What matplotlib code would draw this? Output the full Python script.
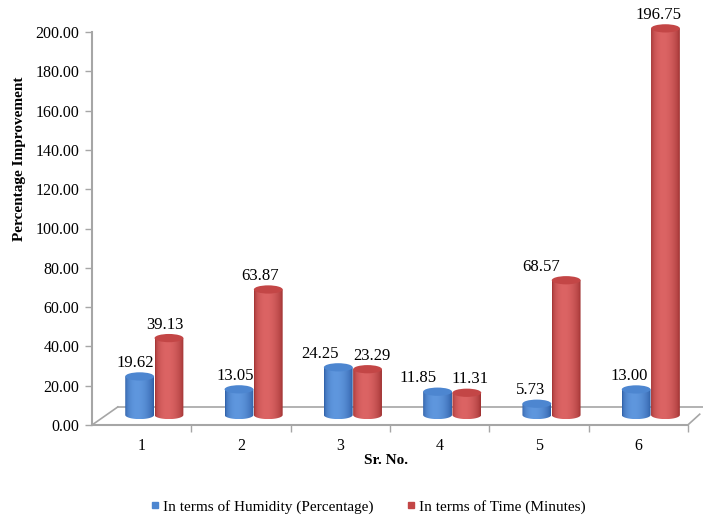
#!/usr/bin/env python3

import numpy as np
import matplotlib
matplotlib.use("Agg")
import matplotlib.pyplot as plt
from matplotlib.patches import Ellipse, Polygon
from matplotlib.lines import Line2D

plt.rcParams['font.family'] = ['Liberation Serif', 'DejaVu Serif']

sr_no = [1, 2, 3, 4, 5, 6]
humidity = [19.62, 13.05, 24.25, 11.85, 5.73, 13.00]
time_min = [39.13, 63.87, 23.29, 11.31, 68.57, 196.75]
series_names = ["In terms of Humidity (Percentage)", "In terms of Time (Minutes)"]
y_ticks = np.arange(0, 201, 20)

# horizontal nudges of the value labels (category units)
hum_label_dx = [-0.04, -0.04, -0.18, -0.20, -0.06, -0.07]
time_label_dx = [-0.04, -0.08, 0.04, 0.03, -0.25, -0.075]

# cylinder look: (dark edge, highlight, top cap)
blue = ("#2a5aa2", "#5f97de", "#4d86d0")
red = ("#9c2f2f", "#dc6464", "#c34646")

BASE = 5.1      # bars stand on the floor, slightly above the zero line
CAP_H = 4.2     # height of the elliptical caps in data units
BAR_W = 0.29
GRAY = "#a6a6a6"
PX_PER_UNIT = 393 / 200


def gradient(dark, light, n=64):
    t = np.linspace(0, 1, n)
    s = np.sin(np.pi * t ** 0.8) ** 0.6
    d = np.array(matplotlib.colors.to_rgb(dark))
    l = np.array(matplotlib.colors.to_rgb(light))
    return (d + (l - d) * s[:, None])[None, :, :]


def cylinder(ax, xc, value, colors, z):
    dark, light, cap = colors
    x0, x1 = xc - BAR_W / 2, xc + BAR_W / 2
    top = BASE + value
    th = np.linspace(np.pi, 2 * np.pi, 40)
    outline = np.column_stack([xc + BAR_W / 2 * np.cos(th), BASE + CAP_H / 2 * np.sin(th)])
    outline = np.vstack([outline, [[x1, top], [x0, top]]])
    clip = Polygon(outline, closed=True, transform=ax.transData)
    im = ax.imshow(gradient(dark, light), extent=[x0, x1, BASE - CAP_H / 2, top],
                   aspect='auto', interpolation='bilinear', zorder=z)
    im.set_clip_path(clip)
    ax.add_patch(Ellipse((xc, top), BAR_W, CAP_H, facecolor=cap, edgecolor='none', zorder=z + 0.1))


fig = plt.figure(figsize=(7.03, 5.27), dpi=100)
# axes reach a little above 200 so the tallest cylinder and its label fit
ax = fig.add_axes([92 / 703, 102 / 527, 611 / 703, 418 / 527])

for i, x in enumerate(sr_no):
    cylinder(ax, x + 0.275, time_min[i], red, 2)
    cylinder(ax, x - 0.02, humidity[i], blue, 3)
    ax.text(x - 0.02 + hum_label_dx[i], BASE + humidity[i] + 6.9, f"{humidity[i]:.2f}",
            ha='center', va='center', fontsize=12, zorder=5)
    ax.text(x + 0.275 + time_label_dx[i], BASE + time_min[i] + 6.9, f"{time_min[i]:.2f}",
            ha='center', va='center', fontsize=12, zorder=5)

# floor of the 3-D plot area
ax.plot([0.5, 6.5], [0, 0], color=GRAY, lw=1.5, clip_on=False, zorder=1)
ax.plot([0.5, 0.76], [0, 9.2], color=GRAY, lw=1.2, zorder=1)
ax.plot([0.76, 6.8], [9.2, 9.2], color=GRAY, lw=1.2, zorder=1)
ax.plot([6.5, 6.62], [0, 5.5], color=GRAY, lw=1.2, zorder=1)

ax.set_xlim(0.5, 0.5 + 611 / 99.3)
ax.set_ylim(0, 418 / PX_PER_UNIT)
for side in ("top", "right", "bottom"):
    ax.spines[side].set_visible(False)
ax.spines["left"].set_color(GRAY)
ax.spines["left"].set_linewidth(1.5)
ax.spines["left"].set_bounds(0, 200)

ax.set_yticks(y_ticks)
ax.set_yticklabels([f"{v:.2f}" for v in y_ticks])
ax.tick_params(axis='y', direction='out', length=5, width=1, color=GRAY, pad=4, labelsize=11.5)
ax.set_xticks(sr_no)
ax.set_xticklabels([str(s) for s in sr_no])
ax.set_xticks(np.arange(1.5, 7, 1), minor=True)
ax.tick_params(axis='x', which='major', length=0, pad=9, labelsize=11.5)
ax.tick_params(axis='x', which='minor', direction='out', length=5, width=1, color=GRAY)

fig.text(20 / 703, 1 - 159 / 527, "Percentage Improvement", rotation=90, ha='center', va='center',
         fontsize=11, fontweight='bold')
fig.text(386 / 703, 1 - 460 / 527, "Sr. No.", ha='center', va='center', fontsize=11, fontweight='bold')

handles = [Line2D([], [], marker='s', ls='none', markersize=5, color=blue[2]),
           Line2D([], [], marker='s', ls='none', markersize=5, color=red[2])]
fig.legend(handles, series_names, loc='center', bbox_to_anchor=(368 / 703, 1 - 507 / 527), ncol=2,
           frameon=False, fontsize=11, handlelength=0.6, handletextpad=0.2, columnspacing=2.2)

fig.savefig("out.png", dpi=100)
